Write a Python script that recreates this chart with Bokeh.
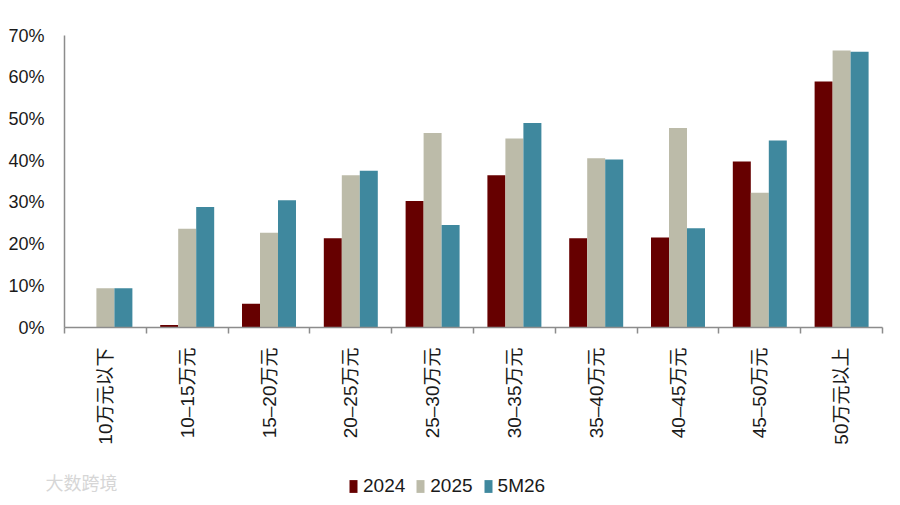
import math
from bokeh.plotting import figure
from bokeh.embed import file_html
from bokeh.resources import INLINE
from bokeh.models import (ColumnDataSource, FixedTicker, PrintfTickFormatter,
                          Legend, LegendItem, Label, Range1d)
from bokeh.transform import dodge

# price bands (vehicle price, CNY)
categories = ["10万元以下", "10–15万元", "15–20万元", "20–25万元", "25–30万元",
              "30–35万元", "35–40万元", "40–45万元", "45–50万元", "50万元以上"]
# share, %
s2024 = [0.0, 0.6, 5.7, 21.4, 30.3, 36.5, 21.4, 21.6, 39.8, 59.0]
s2025 = [9.4, 23.7, 22.7, 36.5, 46.6, 45.3, 40.6, 47.8, 32.3, 66.4]
s5m26 = [9.4, 28.9, 30.5, 37.6, 24.6, 49.0, 40.3, 23.8, 44.8, 66.1]
series_names = ["2024", "2025", "5M26"]
colors = ["#660000", "#BCBBA9", "#3F889E"]
yticks = [0, 10, 20, 30, 40, 50, 60, 70]

FONT = "'Liberation Sans', 'Noto Sans CJK SC', sans-serif"

pos = list(range(1, len(categories) + 1))
src = ColumnDataSource(dict(x=pos, a=s2024, b=s2025, c=s5m26))
bw = 0.22

p = figure(width=892, height=455, min_border_left=64, min_border_top=35,
           min_border_right=10, min_border_bottom=128,
           x_range=Range1d(0.5, len(categories) + 0.5), y_range=Range1d(0, 70),
           output_backend="svg", toolbar_location=None, tools="")
p.outline_line_color = None
p.grid.visible = False

for col, off, c in zip(["a", "b", "c"], [-bw, 0, bw], colors):
    p.vbar(x=dodge("x", off), top=col, width=bw, source=src,
           fill_color=c, line_color=None)

# x axis: labels at centers, ticks at category edges
p.xaxis.ticker = FixedTicker(ticks=pos, minor_ticks=[i + 0.5 for i in range(0, len(categories) + 1)])
p.xaxis.major_label_overrides = {i: name for i, name in zip(pos, categories)}
p.xaxis.major_label_orientation = math.pi / 2
p.xaxis.major_tick_line_color = None
p.xaxis.minor_tick_in = 0
p.xaxis.minor_tick_out = 6
p.xaxis.minor_tick_line_color = "#8c8c8c"
p.xaxis.axis_line_color = "#8c8c8c"
p.xaxis.axis_line_width = 1.5
p.xaxis.minor_tick_line_width = 1.5
p.xaxis.major_label_standoff = 14
p.xaxis.major_label_text_font = FONT
p.xaxis.major_label_text_font_size = "19px"
p.xaxis.major_label_text_color = "#1a1a1a"

p.yaxis.ticker = FixedTicker(ticks=yticks)
p.yaxis.formatter = PrintfTickFormatter(format="%d%%")
p.yaxis.major_tick_line_color = None
p.yaxis.minor_tick_line_color = None
p.yaxis.axis_line_color = "#8c8c8c"
p.yaxis.axis_line_width = 1.5
p.yaxis.major_label_standoff = 14
p.yaxis.major_label_text_font = FONT
p.yaxis.major_label_text_font_size = "18px"
p.yaxis.major_label_text_color = "#1a1a1a"

# strip underneath: legend + watermark; its bars fall far outside the ranges, only the swatches show
leg = figure(width=892, height=42, min_border=0, x_range=Range1d(-100, -99), y_range=Range1d(-100, -99),
             output_backend="svg", toolbar_location=None, tools="")
leg.axis.visible = False
leg.grid.visible = False
leg.outline_line_color = None
items = []
for col, c, n in zip(["a", "b", "c"], colors, series_names):
    r = leg.vbar(x="x", top=col, width=bw, source=src, fill_color=c, line_color=None)
    items.append(LegendItem(label=n, renderers=[r]))

legend = Legend(items=items, orientation="horizontal", location=(348, 0),
                glyph_width=10, glyph_height=16, label_standoff=5, spacing=10,
                label_text_font=FONT, label_text_font_size="19px",
                label_text_color="#1a1a1a", border_line_color=None,
                background_fill_alpha=0, margin=0, padding=2)
leg.add_layout(legend, "center")

leg.add_layout(Label(x=45, y=3, x_units="screen", y_units="screen", text="大数跨境",
                     text_font="Noto Sans CJK SC", text_font_size="18px",
                     text_color="#d6d6d6"))

open("out.html", "w").write(file_html([p, leg], INLINE))
